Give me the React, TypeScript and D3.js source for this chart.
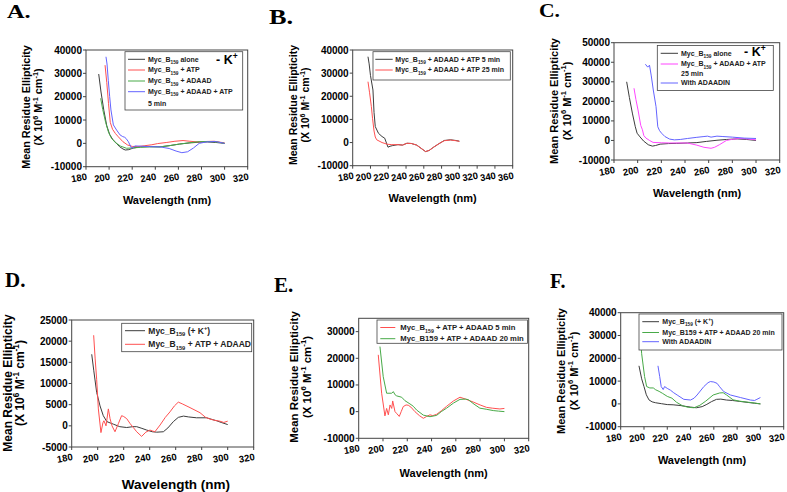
import React from 'react';
import * as d3 from 'd3';

type Pt = [number, number];

// ---------------- Data (wavelength nm, mean residue ellipticity) ----------------
const A_alone: Pt[] = [[191,29700],[193,22000],[195.5,14000],[198,7500],[200.5,3800],[203,1800],[206,200],[209,-1400],[212,-2400],[214,-2850],[217,-2700],[221,-2000],[227,-1500],[235,-1400],[244,-1500],[252,-1000],[261,-300],[270,200],[278,500],[285,600],[292,400],[300,0]];
const A_atp: Pt[] = [[196.5,33500],[198,26000],[199.5,17000],[201,9000],[203,6000],[205.5,4200],[208,2800],[212,700],[216,-700],[220,-1300],[225,-1400],[231,-1000],[237,-600],[242,-100],[250,400],[257,900],[264,1200],[270,900],[277,600],[284,800],[291,900],[296,500],[300,200]];
const A_adaad: Pt[] = [[192.7,19300],[194.5,14500],[197,9000],[199.5,4800],[202,2200],[205.5,300],[210,-1200],[215,-2100],[220,-2000],[227,-1700],[235,-1500],[244,-1500],[252,-1000],[261,-300],[270,300],[278,700],[285,800],[291,700],[296,400],[300,0]];
const A_adaadAtp: Pt[] = [[197.3,37100],[198.2,34000],[199.3,27000],[200.5,20000],[201.6,14300],[203.7,7900],[206.5,5700],[209.5,3600],[211.8,2900],[213.5,2600],[214.7,2100],[216.7,700],[219.5,-2100],[222.5,-1100],[228,-1200],[235,-1400],[244,-1500],[252,-2200],[258,-3300],[263,-4000],[268,-3600],[273,-2000],[278,0],[284,600],[292,800],[300,0]];

const B_5min: Pt[] = [[197.2,37100],[198.5,34000],[200,29000],[202.8,22700],[204,13000],[205.4,6900],[209,4000],[213,2600],[216,1900],[219.7,-2000],[222,-1600],[225,-1300],[231,-900],[236,-1100],[241,-300],[246,-400],[252,-1100],[257,-2500],[262,-3900],[266,-3400],[271,-2000],[277,-500],[283,900],[290,1200],[296,900],[300,600]];
const B_25min: Pt[] = [[197.2,26300],[199,21500],[201,15500],[202.3,10500],[204,5000],[205.4,2400],[207,1200],[213,0],[218.7,-700],[224,-900],[231,-900],[236,-1100],[241,-300],[246,-400],[252,-1100],[257,-2500],[262,-3900],[266,-3400],[271,-2000],[277,-500],[283,800],[290,1100],[296,800],[300,500]];

const C_alone: Pt[] = [[190.7,30000],[193,22000],[195.5,14000],[198,7000],[199.5,3700],[202,1800],[205,-300],[209,-2200],[212.4,-2900],[215,-2600],[219,-1900],[226,-1600],[233,-1500],[242,-1300],[250,-1100],[258,-500],[267,100],[275,500],[284,800],[292,500],[300,0]];
const C_adaadAtp: Pt[] = [[196.9,26700],[198.5,21000],[200.3,15600],[202.6,7700],[204,5500],[205.2,2500],[207,1200],[210,0],[213,-1000],[220,-1200],[227,-1300],[235,-1300],[242,-1300],[250,-2400],[256,-3500],[262,-4000],[265,-3500],[269,-2200],[275,0],[280,600],[286,1000],[292,800],[300,300]];
const C_adaadin: Pt[] = [[206.5,39000],[208.5,37500],[210,38500],[211.5,33000],[213.2,25800],[215.5,17300],[217,7000],[218.5,5000],[220.2,3700],[223,2000],[227,700],[231,300],[236,500],[242,1000],[250,1600],[256,2000],[259,2200],[262,1700],[267,2200],[272,2000],[280,1700],[290,1200],[300,1000]];

const D_k: Pt[] = [[195.4,16900],[197,13000],[199.2,7900],[201.8,4700],[204.3,2400],[207,1000],[212,400],[217,-200],[222.3,-400],[227,-200],[230,-200],[234,-600],[237.7,-1000],[242,-1400],[245.4,-1500],[250.5,-1400],[254,-500],[258.2,1000],[262,2000],[266,2300],[270,2100],[276,1900],[283.8,1900],[288,1500],[291.5,1200],[295,800],[300,300]];
const D_atpAdaad: Pt[] = [[196.9,21400],[198,16000],[199.2,11000],[200.5,4000],[202.5,-1600],[204,700],[204.8,1200],[206.4,0],[208.2,4000],[209.5,1700],[211,0],[213.3,-1400],[216,600],[218.4,2400],[220,2200],[222.3,1700],[225,500],[227.4,-400],[230,-1400],[233.8,-2500],[237,-1500],[240.2,-1000],[242,-1200],[244,-1400],[248,200],[252,2000],[255.6,3300],[259,4700],[262,5600],[265,5200],[271,4300],[278.7,3100],[283,2000],[286.5,1600],[290,1300],[294,1100],[297,800],[300,1100]];

const E_5min: Pt[] = [[196.1,21300],[198.9,6900],[201.6,-1600],[203,1200],[204.4,-1200],[205.8,2500],[207.2,1200],[208,4000],[209.9,0],[211.5,-800],[213.4,-1800],[215,0],[216.7,1900],[219,2500],[220.8,2400],[223,1700],[226.3,0],[230,-1500],[233.2,-2500],[236,-1800],[238.7,-1200],[241,-1500],[244.2,-1000],[248,300],[252.4,2000],[258,4000],[263.4,5400],[268,4700],[274.3,3600],[280,2500],[285.3,1600],[290,1300],[296.3,1000],[300,1200]];
const E_20min: Pt[] = [[197.5,24400],[200.2,13100],[203,6900],[207.2,6900],[208.5,7500],[210,6300],[211.3,5900],[215.4,5400],[218.1,4100],[222.2,2900],[225,2000],[227.7,600],[233.2,-1300],[238.7,-1900],[244.2,-1400],[248,0],[252.4,1300],[258,3200],[263.4,4600],[268,4700],[270.2,4500],[275,2800],[279.8,1300],[285,900],[290.8,400],[295,200],[300,0]];

const F_k: Pt[] = [[195.7,16700],[198,11000],[200,7600],[202,4000],[204.3,1750],[207,900],[210,500],[215,100],[220,-300],[225,-400],[231,-700],[236,-1100],[240,-1400],[245,-1700],[250,-1200],[254,-200],[258,1000],[262.3,2000],[266,2100],[270.8,1700],[276,1500],[282.2,1100],[290,600],[295,300],[300,0]];
const F_20min: Pt[] = [[196.8,30000],[198,22000],[200.5,12000],[202.3,7600],[205,7000],[208,7000],[210,6200],[213,5500],[216,4600],[220,3300],[224,2500],[228,700],[233,-800],[238,-1500],[243,-1700],[248,-600],[253,1200],[259.4,3900],[265,4800],[268,4900],[271,3900],[276.5,1800],[282,1200],[290,700],[296,300],[300,0]];
const F_adaadin: Pt[] = [[212,16700],[213.5,12000],[214.8,7600],[216.5,6300],[217.7,7600],[220,6800],[222.8,6000],[225.5,4900],[228.5,3900],[234.2,2000],[240,1700],[243,2500],[245.6,3900],[251.4,7600],[255,9300],[257,9800],[260,9600],[262.8,9000],[265,7500],[268.5,5400],[274.3,3900],[282.8,2800],[291.4,1700],[295,1500],[297,2000],[300,2800]];

// ---------------- Tick values ----------------
const xTicks320 = [180, 200, 220, 240, 260, 280, 300, 320];
const xTicks360 = [180, 200, 220, 240, 260, 280, 300, 320, 340, 360];
const yTicks40k = [-10000, 0, 10000, 20000, 30000, 40000];
const yTicks50k = [-10000, 0, 10000, 20000, 30000, 40000, 50000];
const yTicks25k = [-5000, 0, 5000, 10000, 15000, 20000, 25000];
const yTicks30k = [-10000, 0, 10000, 20000, 30000];

const BLACK = '#3c3c3c';
const RED = '#ff5050';
const GREEN = '#48aa48';
const BLUE = '#6464ff';
const MAGENTA = '#ff45ff';

const SANS = '"Liberation Sans", Arial, Helvetica, sans-serif';
const SERIF = '"Liberation Serif", "Times New Roman", serif';

const Y_TITLE_1 = 'Mean Residue Ellipticity';
const Y_TITLE_2 = '(X 10^{6} M^{-1} cm^{-1})';
const X_TITLE = 'Wavelength (nm)';

function rich(text: string, size: number) {
  const tokens = text.split(/(_\{[^}]*\}|\^\{[^}]*\})/).filter((t) => t.length);
  let shift = 0;
  return tokens.map((t, i) => {
    let target = 0;
    let content = t;
    let fs = size;
    if (t.startsWith('_{')) { target = size * 0.3; content = t.slice(2, -1); fs = size * 0.68; }
    else if (t.startsWith('^{')) { target = -size * 0.4; content = t.slice(2, -1); fs = size * 0.68; }
    const dy = target - shift;
    shift = target;
    return <tspan key={i} dy={dy} fontSize={fs}>{content}</tspan>;
  });
}

interface Row { color: string | null; text: string; y: number }
interface PanelCfg {
  key: string;
  frame: { x0: number; x1: number; y0: number; y1: number };
  xDomain: [number, number];
  yDomain: [number, number];
  xTicks: number[];
  yTicks: number[];
  series: { data: Pt[]; color: string }[];
  legend: { x: number; y: number; w: number; h: number; sx0: number; sx1: number; tx: number; fs: number; rows: Row[] };
  extra?: { text: string; x: number; y: number; fs: number };
  letter: { text: string; x: number; y: number; fs: number; sx: number };
  yTitle: { x1: number; x2: number; cy: number; fs: number };
  xTitle: { x: number; y: number; fs: number };
}

const panels: PanelCfg[] = [
  {
    key: 'A', frame: { x0: 86, x1: 247.7, y0: 50, y1: 166.7 }, xDomain: [180, 320], yDomain: [-10000, 40000],
    xTicks: xTicks320, yTicks: yTicks40k,
    series: [{ data: A_alone, color: BLACK }, { data: A_atp, color: RED }, { data: A_adaad, color: GREEN }, { data: A_adaadAtp, color: BLUE }],
    legend: { x: 125, y: 51.7, w: 117.7, h: 58.3, sx0: 128, sx1: 145, tx: 148, fs: 7, rows: [
      { color: BLACK, text: 'Myc_B_{159} alone', y: 59.3 },
      { color: RED, text: 'Myc_B_{159} + ATP', y: 70 },
      { color: GREEN, text: 'Myc_B_{159} + ADAAD', y: 81 },
      { color: BLUE, text: 'Myc_B_{159} + ADAAD + ATP', y: 91.7 },
      { color: null, text: '5 min', y: 103.3 },
    ] },
    extra: { text: '- K^{+}', x: 216, y: 59.5, fs: 12.5 },
    letter: { text: 'A.', x: 7, y: 18.3, fs: 18, sx: 1.35 },
    yTitle: { x1: 26.7, x2: 38.3, cy: 107, fs: 10.8 },
    xTitle: { x: 167, y: 200, fs: 11 },
  },
  {
    key: 'B', frame: { x0: 352.7, x1: 512.7, y0: 50, y1: 165.7 }, xDomain: [180, 360], yDomain: [-10000, 40000],
    xTicks: xTicks360, yTicks: yTicks40k,
    series: [{ data: B_5min, color: BLACK }, { data: B_25min, color: RED }],
    legend: { x: 373, y: 51.7, w: 137.3, h: 28.3, sx0: 375.3, sx1: 392.7, tx: 395.3, fs: 7, rows: [
      { color: BLACK, text: 'Myc_B_{159} + ADAAD + ATP 5 min', y: 59.3 },
      { color: RED, text: 'Myc_B_{159} + ADAAD + ATP 25 min', y: 70 },
    ] },
    letter: { text: 'B.', x: 269, y: 24, fs: 21, sx: 1.25 },
    yTitle: { x1: 293.7, x2: 305.3, cy: 105, fs: 10.5 },
    xTitle: { x: 432.7, y: 198, fs: 11 },
  },
  {
    key: 'C', frame: { x0: 614, x1: 779.7, y0: 42.7, y1: 160 }, xDomain: [180, 320], yDomain: [-10000, 50000],
    xTicks: xTicks320, yTicks: yTicks50k,
    series: [{ data: C_alone, color: BLACK }, { data: C_adaadAtp, color: MAGENTA }, { data: C_adaadin, color: BLUE }],
    legend: { x: 657.3, y: 45.5, w: 116, h: 45, sx0: 660.7, sx1: 678, tx: 681, fs: 7, rows: [
      { color: BLACK, text: 'Myc_B_{159} alone', y: 53.3 },
      { color: MAGENTA, text: 'Myc_B_{159} + ADAAD + ATP', y: 64 },
      { color: null, text: '25 min', y: 73.5 },
      { color: BLUE, text: 'With ADAADIN', y: 83 },
    ] },
    extra: { text: '- K^{+}', x: 744, y: 52, fs: 12.5 },
    letter: { text: 'C.', x: 539, y: 16.7, fs: 18, sx: 1.2 },
    yTitle: { x1: 554, x2: 566.7, cy: 101, fs: 11 },
    xTitle: { x: 697, y: 193, fs: 11 },
  },
  {
    key: 'D', frame: { x0: 71.7, x1: 253.7, y0: 320, y1: 447 }, xDomain: [180, 320], yDomain: [-5000, 25000],
    xTicks: xTicks320, yTicks: yTicks25k,
    series: [{ data: D_k, color: BLACK }, { data: D_atpAdaad, color: RED }],
    legend: { x: 121.7, y: 323.3, w: 130, h: 28.4, sx0: 125, sx1: 145, tx: 148.3, fs: 8.5, rows: [
      { color: BLACK, text: 'Myc_B_{159} (+ K^{+})', y: 330.7 },
      { color: RED, text: 'Myc_B_{159} + ATP + ADAAD', y: 344.3 },
    ] },
    letter: { text: 'D.', x: 5, y: 287, fs: 21, sx: 1 },
    yTitle: { x1: 7.3, x2: 20, cy: 383, fs: 12 },
    xTitle: { x: 176, y: 484.5, fs: 13.5 },
  },
  {
    key: 'E', frame: { x0: 358.7, x1: 528.7, y0: 318.3, y1: 438.3 }, xDomain: [180, 320], yDomain: [-10000, 35000],
    xTicks: xTicks320, yTicks: yTicks30k,
    series: [{ data: E_5min, color: RED }, { data: E_20min, color: GREEN }],
    legend: { x: 377, y: 320, w: 150.5, h: 23.3, sx0: 380.3, sx1: 395.3, tx: 400.3, fs: 7.7, rows: [
      { color: RED, text: 'Myc_B_{159} + ATP + ADAAD 5 min', y: 327.5 },
      { color: GREEN, text: 'Myc_B159 + ATP + ADAAD 20 min', y: 338.7 },
    ] },
    letter: { text: 'E.', x: 274, y: 291.7, fs: 20, sx: 1.05 },
    yTitle: { x1: 294.3, x2: 307, cy: 377, fs: 11.5 },
    xTitle: { x: 443.7, y: 473, fs: 11 },
  },
  {
    key: 'F', frame: { x0: 620.7, x1: 783.7, y0: 312.7, y1: 426.7 }, xDomain: [180, 320], yDomain: [-10000, 40000],
    xTicks: xTicks320, yTicks: yTicks40k,
    series: [{ data: F_k, color: BLACK }, { data: F_20min, color: GREEN }, { data: F_adaadin, color: BLUE }],
    legend: { x: 639, y: 314, w: 143, h: 36, sx0: 642.3, sx1: 659, tx: 662.3, fs: 7, rows: [
      { color: BLACK, text: 'Myc_B_{159} (+ K^{+})', y: 321.7 },
      { color: GREEN, text: 'Myc_B159 + ATP + ADAAD 20 min', y: 332.5 },
      { color: BLUE, text: 'With ADAADIN', y: 341.7 },
    ] },
    letter: { text: 'F.', x: 550, y: 288.3, fs: 20, sx: 1 },
    yTitle: { x1: 561.3, x2: 574, cy: 371, fs: 11 },
    xTitle: { x: 702, y: 460, fs: 11 },
  },
];

function Panel({ cfg }: { cfg: PanelCfg }) {
  const { frame } = cfg;
  const x = d3.scaleLinear().domain(cfg.xDomain).range([frame.x0, frame.x1]);
  const y = d3.scaleLinear().domain(cfg.yDomain).range([frame.y1, frame.y0]);
  const line = d3.line<Pt>().x((d) => x(d[0])).y((d) => y(d[1]));
  const clipId = 'clip-' + cfg.key;
  const lg = cfg.legend;
  const tickFs = 9.5;
  return (
    <g>
      <defs>
        <clipPath id={clipId}>
          <rect x={frame.x0} y={frame.y0} width={frame.x1 - frame.x0} height={frame.y1 - frame.y0} />
        </clipPath>
      </defs>
      <g clipPath={`url(#${clipId})`}>
        {cfg.series.map((s, i) => (
          <path key={i} d={line(s.data) || ''} fill="none" stroke={s.color} strokeWidth={1} strokeLinejoin="round" />
        ))}
      </g>
      {/* legend */}
      <rect x={lg.x} y={lg.y} width={lg.w} height={lg.h} fill="#fff" stroke="#444" strokeWidth={0.8} />
      {lg.rows.map((r, i) => (
        <g key={i}>
          {r.color && <line x1={lg.sx0} x2={lg.sx1} y1={r.y} y2={r.y} stroke={r.color} strokeWidth={1} />}
          <text x={lg.tx} y={r.y + lg.fs * 0.35} fontSize={lg.fs} fontFamily={SANS} fontWeight={700} fill="#222">
            {rich(r.text, lg.fs)}
          </text>
        </g>
      ))}
      {cfg.extra && (
        <text x={cfg.extra.x} y={cfg.extra.y + cfg.extra.fs * 0.35} fontSize={cfg.extra.fs} fontFamily={SANS} fontWeight={700} fill="#000">
          {rich(cfg.extra.text, cfg.extra.fs)}
        </text>
      )}
      {/* frame */}
      <rect x={frame.x0} y={frame.y0} width={frame.x1 - frame.x0} height={frame.y1 - frame.y0} fill="none" stroke="#444" strokeWidth={1} />
      {/* x ticks */}
      {cfg.xTicks.map((t) => (
        <g key={'x' + t}>
          <line x1={x(t)} x2={x(t)} y1={frame.y1} y2={frame.y1 + 3} stroke="#444" strokeWidth={1} />
          <text transform={`translate(${x(t) - 7},${frame.y1 + 11}) rotate(-10)`} y={tickFs * 0.35} textAnchor="middle" fontSize={tickFs} fontFamily={SANS} fontWeight={700} fill="#000">
            {t}
          </text>
        </g>
      ))}
      {/* y ticks */}
      {cfg.yTicks.map((t) => (
        <g key={'y' + t}>
          <line x1={frame.x0 - 3} x2={frame.x0} y1={y(t)} y2={y(t)} stroke="#444" strokeWidth={1} />
          <text x={frame.x0 - 4} y={y(t) + 10 * 0.35} textAnchor="end" fontSize={10} fontFamily={SANS} fontWeight={700} fill="#000">
            {t}
          </text>
        </g>
      ))}
      {/* axis titles */}
      <text transform={`translate(${cfg.yTitle.x1},${cfg.yTitle.cy}) rotate(-90)`} y={cfg.yTitle.fs * 0.35} textAnchor="middle" fontSize={cfg.yTitle.fs} fontFamily={SANS} fontWeight={700} fill="#000">
        {Y_TITLE_1}
      </text>
      <text transform={`translate(${cfg.yTitle.x2},${cfg.yTitle.cy}) rotate(-90)`} y={cfg.yTitle.fs * 0.35} textAnchor="middle" fontSize={cfg.yTitle.fs} fontFamily={SANS} fontWeight={700} fill="#000">
        {rich(Y_TITLE_2, cfg.yTitle.fs)}
      </text>
      <text x={cfg.xTitle.x} y={cfg.xTitle.y + cfg.xTitle.fs * 0.35} textAnchor="middle" fontSize={cfg.xTitle.fs} fontFamily={SANS} fontWeight={700} fill="#000">
        {X_TITLE}
      </text>
      {/* panel letter */}
      <text transform={`translate(${cfg.letter.x},${cfg.letter.y}) scale(${cfg.letter.sx},1)`} fontSize={cfg.letter.fs} fontFamily={SERIF} fontWeight={700} fill="#000">
        {cfg.letter.text}
      </text>
    </g>
  );
}

export default function App() {
  return (
    <svg width={787} height={492} style={{ position: 'absolute', left: 0, top: 0, background: '#fff' }}>
      <rect x={0} y={0} width={787} height={492} fill="#fff" />
      {panels.map((p) => (
        <Panel key={p.key} cfg={p} />
      ))}
    </svg>
  );
}
